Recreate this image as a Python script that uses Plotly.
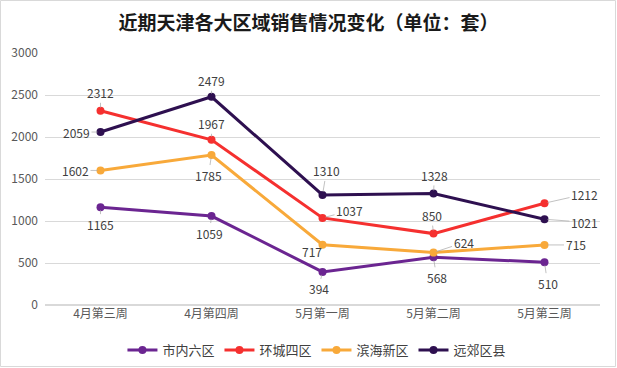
import plotly.graph_objects as go

categories = ["4月第三周", "4月第四周", "5月第一周", "5月第二周", "5月第三周"]
series_names = ["市内六区", "环城四区", "滨海新区", "远郊区县"]
city_six = [1165, 1059, 394, 568, 510]
ring_four = [2312, 1967, 1037, 850, 1212]
binhai = [1602, 1785, 717, 624, 715]
suburb = [2059, 2479, 1310, 1328, 1021]
colors = ["#6B2591", "#F5302F", "#F8A93A", "#2E1050"]

# label offsets (pixels) per series per point
offsets = [
    [(0, 17), (-2, 17), (-4, 17), (3, 20), (3, 21)],
    [(0, -18), (0, -16), (27, -7), (-2, -18), (40, -9)],
    [(-25, 0), (-3, 20), (-11, 7), (30, -10), (31, 0)],
    [(-24, 0), (0, -16), (4, -24), (1, -18), (40, 3)],
]

ML, MR, MT, MB = 45, 17, 53, 63
W, H = 617, 368

fig = go.Figure()
all_series = [city_six, ring_four, binhai, suburb]
for name, vals, col in zip(series_names, all_series, colors):
    fig.add_trace(go.Scatter(
        x=categories, y=vals, name=name, mode="lines+markers",
        line=dict(color=col, width=3), marker=dict(color=col, size=8),
    ))

annotations = []
for vals, offs in zip(all_series, offsets):
    for c, v, (dx, dy) in zip(categories, vals, offs):
        annotations.append(dict(
            x=c, y=v, xref="x", yref="y", text=str(v), showarrow=True,
            ax=dx, ay=dy, arrowhead=0, arrowwidth=0.7, arrowcolor="#A6A6A6",
            standoff=3, font=dict(size=12, color="#404040",
                                  family="Noto Sans CJK SC, Arial")))

pw = W - ML - MR
ph = H - MT - MB
fig.update_layout(
    width=W, height=H,
    margin=dict(l=ML, r=MR, t=MT, b=MB, autoexpand=False),
    paper_bgcolor="white", plot_bgcolor="white",
    title=dict(text="<b>近期天津各大区域销售情况变化（单位：套）</b>",
               x=0.5, xanchor="center", y=1 - 23 / H, yanchor="middle",
               font=dict(size=19, color="#1a1a1a", family="Noto Sans CJK SC")),
    font=dict(family="Noto Sans CJK SC, Arial", size=12, color="#595959"),
    xaxis=dict(showgrid=False, showline=False, ticks="", range=[-0.5, 4.5],
               tickfont=dict(size=12, color="#595959")),
    yaxis=dict(range=[0, 3000], dtick=500, gridcolor="#D9D9D9", gridwidth=1,
               zeroline=True, zerolinecolor="#D9D9D9", showline=False,
               tickfont=dict(size=12, color="#595959"), ticklabelstandoff=6),
    legend=dict(orientation="h", x=0.49, xanchor="center", y=-45 / ph, yanchor="middle",
                font=dict(size=13, color="#404040"), itemwidth=30,
                bgcolor="rgba(0,0,0,0)"),
    showlegend=True,
    annotations=annotations,
    shapes=[dict(type="rect", xref="paper", yref="paper",
                 x0=-(ML - 0.5) / pw, x1=1 + (MR - 1.5) / pw,
                 y0=-(MB - 1.5) / ph, y1=1 + (MT - 0.5) / ph,
                 line=dict(color="#D9D9D9", width=1), layer="below")],
)

fig.write_html("out.html", config={"displayModeBar": False},
               post_script="document.body.style.margin='0';document.body.style.overflow='hidden';")
